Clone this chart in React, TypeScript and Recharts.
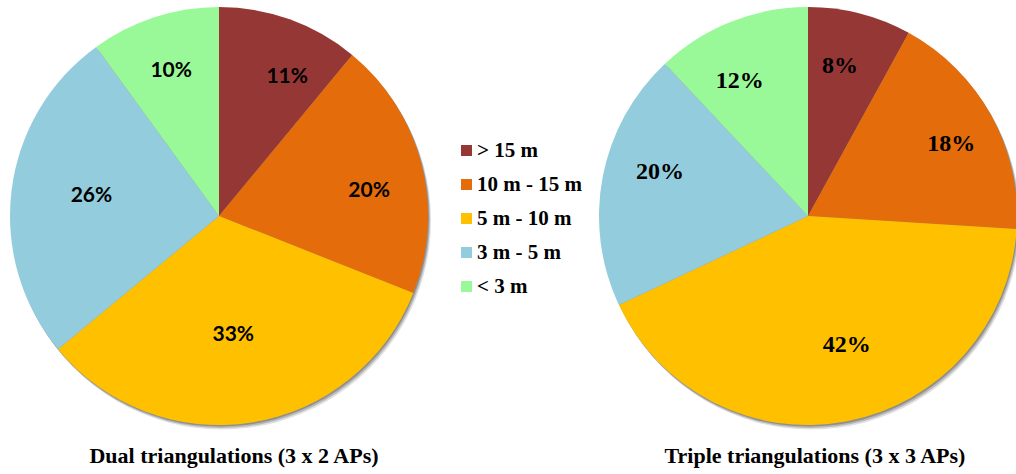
import React from 'react';
import { PieChart, Pie, Cell, Legend } from 'recharts';

// Error-range categories (shared by both pies)
const categories = ['> 15 m', '10 m - 15 m', '5 m - 10 m', '3 m - 5 m', '< 3 m'];
const colors = ['#953735', '#E46C0A', '#FFC000', '#93CDDD', '#99F999'];

// Share of estimates per error range, in percent
const dualValues = [11, 20, 33, 26, 10];
const tripleValues = [8, 18, 42, 20, 12];

const titles = ['Dual triangulations (3 x 2 APs)', 'Triple triangulations (3 x 3 APs)'];

// Label placement tweaks per slice: radius fraction and clockwise nudge in degrees
const dualLabelRadius = [0.75, 0.73, 0.56, 0.62, 0.74];
const dualLabelNudge = [6, 4, 2, 3, 0];
const tripleLabelRadius = [0.74, 0.77, 0.64, 0.74, 0.73];
const tripleLabelNudge = [-2.5, 1.7, -6, 6, -5];

// Layered translucent discs that fake a soft drop shadow: [dx, dy, opacity]
const shadowLayers = [
  [1, 1.5, 0.22],
  [2, 3, 0.18],
  [3, 4.5, 0.12],
];

const RAD = Math.PI / 180;
const W = 1016;
const H = 474;
const R = 209;
const CY = 216;
const LEFT_CX = 219;
const RIGHT_CX = 808;
const SERIF = 'Liberation Serif';
const SANS = 'Lato';

const toRows = (vals: number[]) => categories.map((name, i) => ({ name, value: vals[i] }));
const dualData = toRows(dualValues);
const tripleData = toRows(tripleValues);
const discData = [{ name: 'disc', value: 1 }];

const makeLabel = (radius: number[], nudge: number[], font: string, size: number) => (props: any) => {
  const { cx, cy, midAngle, outerRadius, index, value } = props;
  const a = (midAngle - nudge[index]) * RAD;
  const r = outerRadius * radius[index];
  return (
    <text
      key={`lbl-${index}`}
      x={cx + r * Math.cos(a)}
      y={cy - r * Math.sin(a)}
      textAnchor="middle"
      dominantBaseline="central"
      fontFamily={font}
      fontWeight="bold"
      fontSize={size}
      fill="#000"
    >
      {`${value}%`}
    </text>
  );
};

const LegendBox = () => (
  <div style={{ fontFamily: SERIF, fontWeight: 'bold', fontSize: 21, color: '#000' }}>
    {categories.map((c, i) => (
      <div key={c} style={{ display: 'flex', alignItems: 'center', height: 34 }}>
        <span style={{ display: 'inline-block', width: 11, height: 11, background: colors[i], marginRight: 5 }} />
        <span style={{ whiteSpace: 'pre' }}>{c}</span>
      </div>
    ))}
  </div>
);

export default function App() {
  const shadows = [LEFT_CX, RIGHT_CX].flatMap((cx) =>
    shadowLayers.map(([dx, dy, op], k) => (
      <Pie
        key={`shadow-${cx}-${k}`}
        data={discData}
        dataKey="value"
        cx={cx + dx}
        cy={CY + dy}
        outerRadius={R}
        fill={`rgba(0,0,0,${op})`}
        stroke="none"
        legendType="none"
        isAnimationActive={false}
      />
    ))
  );

  return (
    <div style={{ position: 'absolute', left: 0, top: 0, width: W, height: H, background: '#fff', overflow: 'hidden' }}>
      <PieChart width={W} height={H} margin={{ top: 0, right: 0, bottom: 0, left: 0 }}>
        {shadows}
        <Pie
          data={dualData}
          dataKey="value"
          nameKey="name"
          cx={LEFT_CX}
          cy={CY}
          outerRadius={R}
          startAngle={90}
          endAngle={-270}
          stroke="none"
          labelLine={false}
          label={makeLabel(dualLabelRadius, dualLabelNudge, SANS, 21)}
          isAnimationActive={false}
        >
          {dualData.map((d, i) => (
            <Cell key={d.name} fill={colors[i]} />
          ))}
        </Pie>
        <Pie
          data={tripleData}
          dataKey="value"
          nameKey="name"
          cx={RIGHT_CX}
          cy={CY}
          outerRadius={R}
          startAngle={90}
          endAngle={-270}
          stroke="none"
          labelLine={false}
          label={makeLabel(tripleLabelRadius, tripleLabelNudge, SERIF, 24)}
          isAnimationActive={false}
        >
          {tripleData.map((d, i) => (
            <Cell key={d.name} fill={colors[i]} />
          ))}
        </Pie>
        <Legend
          content={() => <LegendBox />}
          layout="vertical"
          wrapperStyle={{ position: 'absolute', left: 461, top: 133, width: 160 }}
        />
      </PieChart>
      {titles.map((t, i) => (
        <div
          key={t}
          style={{
            position: 'absolute',
            left: i === 0 ? 234 - 200 : 815 - 200,
            width: 400,
            top: 443,
            textAlign: 'center',
            fontFamily: SERIF,
            fontWeight: 'bold',
            fontSize: 22,
            lineHeight: '26px',
            color: '#000',
            whiteSpace: 'pre',
          }}
        >
          {t}
        </div>
      ))}
    </div>
  );
}
